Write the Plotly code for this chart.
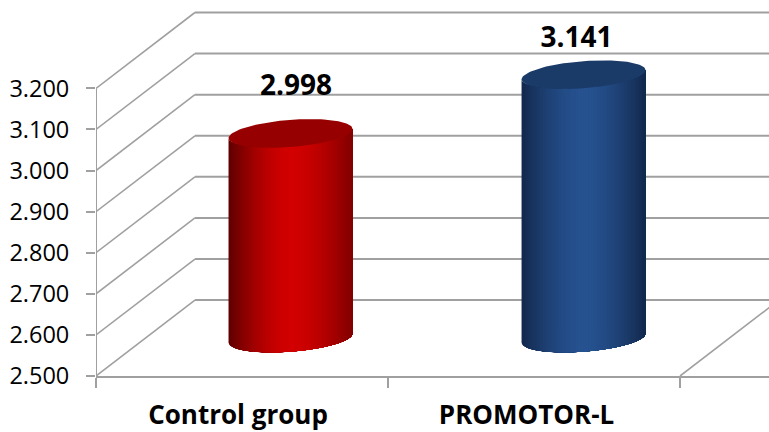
import numpy as np
import plotly.graph_objects as go

# --- data ---
categories = ["Control group", "PROMOTOR-L"]
values = [2.998, 3.141]
value_labels = ["2.998", "3.141"]
y_ticks = [2.5, 2.6, 2.7, 2.8, 2.9, 3.0, 3.1, 3.2]
y_tick_labels = ["2.500", "2.600", "2.700", "2.800", "2.900", "3.000", "3.100", "3.200"]

# --- pixel geometry of the plot (front wall of the fake 3D box) ---
W, H = 769, 432
AX_L, AX_B_PX = 95.5, 376.5
PX_PER_CAT = 292.25
PX_PER_VAL = 411.4
DEPTH_X = 99 / PX_PER_CAT      # depth offset in category units
DEPTH_Y = 76 / PX_PER_VAL      # depth offset in value units
BASE = 2.5
X_MIN = -0.5
X_MAX = X_MIN + (W - AX_L) / PX_PER_CAT
Y_MAX = BASE + AX_B_PX / PX_PER_VAL

HALF_W = 62 / PX_PER_CAT       # cylinder radius
ELL_B = 13.6 / PX_PER_VAL      # ellipse minor radius
ELL_K = 4.6 / PX_PER_VAL       # tilt of ellipse
GRID = "#a0a0a0"
FONT = "Open Sans"
N_STRIPS = 82

EDGE_L = [(0x5e, 0, 0), (0x12, 0x28, 0x4c)]
EDGE_R = [(0x80, 0, 0), (0x12, 0x28, 0x4c)]
CENTER = [(0xd2, 0, 0), (0x26, 0x52, 0x90)]
TOPS = [(0x96, 0, 0), (0x1a, 0x3b, 0x68)]
BAR_DX = [-1 / PX_PER_CAT, 0]
LABEL_DX = [5.5 / PX_PER_CAT, -7 / PX_PER_CAT]
LABEL_DY = [46 / PX_PER_VAL, 35 / PX_PER_VAL]
TICK_DX = [-4 / PX_PER_CAT, -7.5 / PX_PER_CAT]


def rgb(c):
    return "rgb(%d,%d,%d)" % tuple(int(round(v)) for v in c)


fig = go.Figure()


def line(x, y, width=1.6):
    fig.add_trace(go.Scatter(x=x, y=y, mode="lines", hoverinfo="skip", showlegend=False,
                             line=dict(color=GRID, width=width)))


# walls: horizontal grid on back wall, diagonal on side wall
for v in y_ticks:
    line([X_MIN, X_MIN + DEPTH_X], [v, v + DEPTH_Y], width=1.6)
    line([X_MIN + DEPTH_X, X_MAX], [v + DEPTH_Y, v + DEPTH_Y], width=2)
# floor right edge
line([X_MIN + 2, X_MIN + 2 + DEPTH_X], [BASE, BASE + DEPTH_Y])
# value axis line, stopping at the top tick
line([X_MIN, X_MIN], [BASE, y_ticks[-1]], width=2)


def ellipse_y(cy, cos_t):
    """y of the front half of a tilted ellipse; tilt rises to the right."""
    sin_t = np.sqrt(np.clip(1 - cos_t ** 2, 0, 1))
    return cy - ELL_B * sin_t + ELL_K * cos_t


# cylinders: painted left to right, each strip reaching the right edge (no seams)
for i, (cat, val) in enumerate(zip(categories, values)):
    cx = i + DEPTH_X / 2 + BAR_DX[i]
    y_bot = BASE + DEPTH_Y / 2
    y_top = val + DEPTH_Y / 2
    edges = np.linspace(-1, 1, N_STRIPS + 1)
    for a, b in zip(edges[:-1], edges[1:]):
        u = (a + b) / 2
        edge = EDGE_L[i] if u < 0 else EDGE_R[i]
        f = 1 - abs(u) ** 1.6
        col = [e + (c - e) * f for e, c in zip(edge, CENTER[i])]
        th = np.linspace(np.arccos(a), 0, 40)
        us = np.cos(th)
        xs = cx + HALF_W * us
        xp = np.concatenate([xs, xs[::-1]])
        yp = np.concatenate([ellipse_y(y_bot, us), ellipse_y(y_top, us[::-1])])
        fig.add_trace(go.Scatter(x=xp, y=yp, mode="lines", fill="toself", fillcolor=rgb(col),
                                 line=dict(width=0), hoverinfo="skip", showlegend=False))
    t = np.linspace(0, 2 * np.pi, 120)
    fig.add_trace(go.Scatter(x=cx + HALF_W * np.cos(t),
                             y=y_top + ELL_B * np.sin(t) + ELL_K * np.cos(t),
                             mode="lines", fill="toself", fillcolor=rgb(TOPS[i]),
                             line=dict(width=0), hoverinfo="skip", showlegend=False))
    fig.add_trace(go.Scatter(x=[cx + LABEL_DX[i]], y=[y_top + LABEL_DY[i]], mode="text",
                             text=["<b>%s</b>" % value_labels[i]], textposition="middle center",
                             textfont=dict(family=FONT, size=28, color="black"),
                             hoverinfo="skip", showlegend=False, cliponaxis=False))

fig.update_layout(
    width=W, height=H, autosize=False,
    margin=dict(l=AX_L, r=0, t=0, b=H - AX_B_PX, pad=0, autoexpand=False),
    paper_bgcolor="white", plot_bgcolor="white",
    showlegend=False,
    xaxis=dict(
        range=[X_MIN, X_MAX], showgrid=False, zeroline=False, automargin=False,
        showline=True, linecolor=GRID, linewidth=2,
        tickmode="array",
        tickvals=[j + d for j, d in enumerate(TICK_DX)],
        ticktext=["<b>%s</b>" % c for c in categories],
        ticks="", ticklabelstandoff=15,
        tickfont=dict(family=FONT, size=26, color="black"),
        minor=dict(tickmode="array", tickvals=[-0.5, 0.5, 1.5], ticks="outside",
                   ticklen=10, tickwidth=2, tickcolor=GRID, showgrid=False),
    ),
    yaxis=dict(
        range=[BASE, Y_MAX], showgrid=False, zeroline=False, automargin=False,
        showline=False,
        tickmode="array", tickvals=y_ticks, ticktext=y_tick_labels,
        ticks="outside", ticklen=9, tickwidth=1.6, tickcolor=GRID,
        ticklabelstandoff=12,
        tickfont=dict(family=FONT, size=23.5, color="black"),
    ),
)
fig.write_html("out.html", config=dict(displayModeBar=False),
               post_script="document.body.style.margin='0';document.documentElement.style.overflow='hidden';")
